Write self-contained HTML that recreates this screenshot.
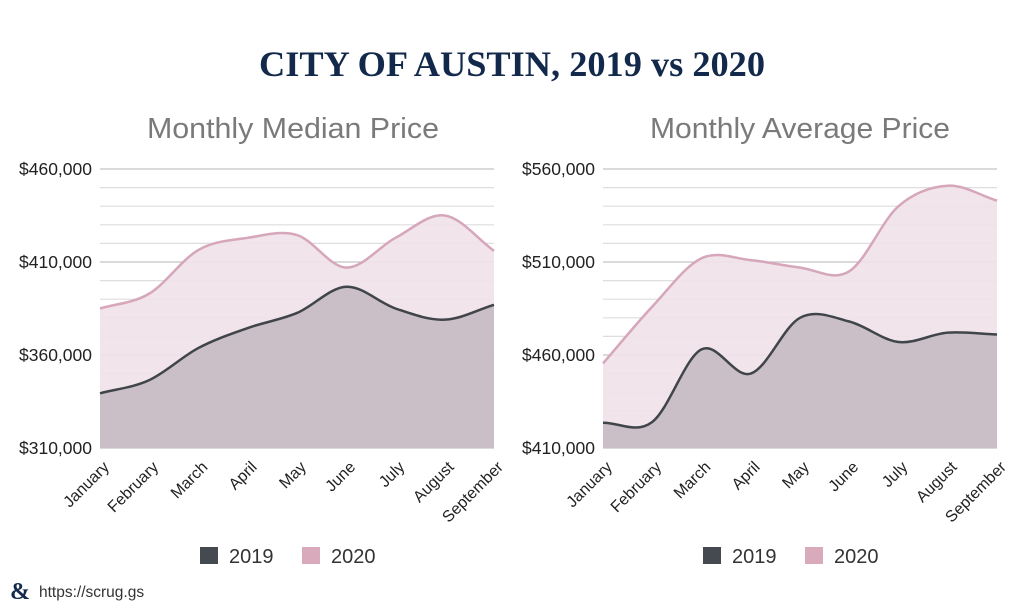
<!DOCTYPE html>
<html><head><meta charset="utf-8"><style>
html,body{margin:0;padding:0;background:#fff;width:1024px;height:609px;overflow:hidden}
svg{display:block}
</style></head><body>
<svg id="s" width="1024" height="609" xmlns="http://www.w3.org/2000/svg">
<text x="512" y="76" text-anchor="middle" font-family="Liberation Serif, serif" font-weight="bold" font-size="36" fill="#13294b" textLength="506" lengthAdjust="spacingAndGlyphs">CITY OF AUSTIN, 2019 vs 2020</text>
<text x="293" y="138" text-anchor="middle" font-family="Liberation Sans, sans-serif" font-size="29" fill="#7a7a7a" textLength="292" lengthAdjust="spacingAndGlyphs">Monthly Median Price</text>
<text x="800" y="138" text-anchor="middle" font-family="Liberation Sans, sans-serif" font-size="29" fill="#7a7a7a" textLength="300" lengthAdjust="spacingAndGlyphs">Monthly Average Price</text>
<text x="10" y="599" font-family="Liberation Serif, serif" font-weight="bold" font-size="24" fill="#13294b">&amp;</text>
<text x="39" y="597" font-family="Liberation Sans, sans-serif" font-size="15.5" fill="#333">https://scrug.gs</text>
</svg>
<script>
const months=["January","February","March","April","May","June","July","August","September"];
const median2019=[339.4,346.5,363.8,374.5,382.6,396.7,385,379,387];
const median2020=[385,393,416.5,423,424.5,407,423,435,416];
const avg2019=[423.6,424,463,450,480,478,467,472,471];
const avg2020=[455.5,486,512,511,507,505,540,551,543];
const medianTicks=[310,360,410,460];
const avgTicks=[410,460,510,560];
const svg=document.getElementById('s');
const NS='http://www.w3.org/2000/svg';
function mk(t,a,p){const e=document.createElementNS(NS,t);for(const k in a)e.setAttribute(k,a[k]);(p||svg).appendChild(e);return e;}
function path(pts){let d='M'+pts[0][0]+','+pts[0][1];const n=pts.length;
 const m=[];for(let i=0;i<n;i++){const a=pts[Math.max(0,i-1)],b=pts[Math.min(n-1,i+1)];m.push((b[1]-a[1])/(b[0]-a[0]));}
 for(let i=0;i<n-1;i++){const p=pts[i],q=pts[i+1],h=(q[0]-p[0])/3;
 d+=' C'+(p[0]+h)+','+(p[1]+m[i]*h)+' '+(q[0]-h)+','+(q[1]-m[i+1]*h)+' '+q[0]+','+q[1];}return d;}
function chart(x0,x1,ticks,s19,s20,name){
 const y0=448,y1=169,lo=ticks[0],hi=ticks[ticks.length-1];
 const Y=v=>y0-(v-lo)/(hi-lo)*(y0-y1);
 const X=i=>x0+i*(x1-x0)/(months.length-1);
 const g=mk('g',{});
 
 
 for(let v=lo;v<=hi;v+=10){const major=ticks.includes(v);
  const l=mk('line',{x1:x0,x2:x1,y1:Y(v),y2:Y(v),stroke:major?'#c4c4c4':'#dedede','stroke-width':1.2},g);
  
  }
 ticks.forEach(v=>{const t=mk('text',{x:x0-8,y:Y(v)+6,'text-anchor':'end','font-family':'Liberation Sans, sans-serif','font-size':17.5,fill:'#222'},g);
  t.textContent='$'+(v*1000).toLocaleString('en-US');
  
  });
 [[s20,'#f0e2e9','#d6a6bb','2020'],[s19,'#c7bbc3','#40454a','2019']].forEach(([s,f,c,n])=>{
  const pts=s.map((v,i)=>[X(i),Y(v)]);const d=path(pts);
  const a=mk('path',{d:d+' L'+x1+','+y0+' L'+x0+','+y0+' Z',fill:f,'fill-opacity':0.92},g);
  
  
  const l=mk('path',{d:d,fill:'none',stroke:c,'stroke-width':2.5},g);
  
  });
 months.forEach((m,i)=>{const x=X(i)+10,y=468;
  const t=mk('text',{x:x,y:y,'text-anchor':'end',transform:'rotate(-45 '+x+' '+y+')','font-family':'Liberation Sans, sans-serif','font-size':16,fill:'#222'},g);
  t.textContent=m;
  
  });
 const lx=x0+100;
 [['2019','#444a50',0],['2020','#d9a9bc',102]].forEach(([n,c,o])=>{
  const r=mk('rect',{x:lx+o,y:547,width:18,height:17,fill:c},g);
  
  
  const t=mk('text',{x:lx+o+29,y:563,'font-family':'Liberation Sans, sans-serif','font-size':20,fill:'#333'},g);
  t.textContent=n;
  
  });
}
chart(100,494,medianTicks,median2019,median2020,'median-price-chart');
chart(603,997,avgTicks,avg2019,avg2020,'average-price-chart');
</script>
</body></html>
